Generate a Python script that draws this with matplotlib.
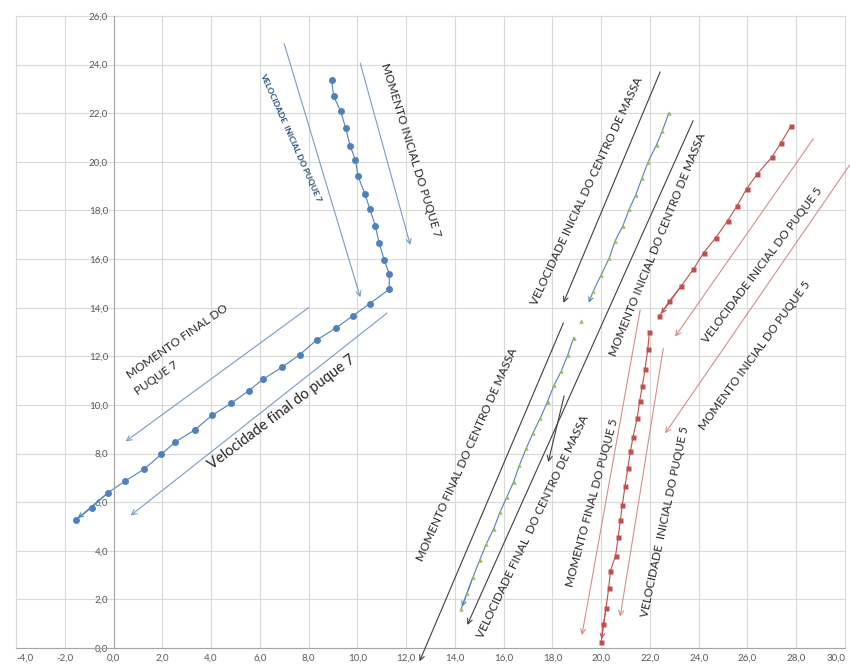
import matplotlib.pyplot as plt
import numpy as np

plt.rcParams['font.family'] = ['Lato', 'DejaVu Sans']

# Puque 7 (blue) - initial part then final part
p7_x = [8.94, 9.03, 9.31, 9.52, 9.70, 9.92, 10.03, 10.31, 10.51, 10.73, 10.89, 11.10, 11.31, 11.31,
        10.50, 9.81, 9.13, 8.33, 7.63, 6.92, 6.15, 5.55, 4.83, 4.05, 3.33, 2.54, 1.96, 1.27, 0.48, -0.24, -0.90, -1.55]
p7_y = [23.37, 22.69, 22.10, 21.39, 20.67, 20.08, 19.40, 18.68, 18.07, 17.38, 16.68, 15.97, 15.38, 14.76,
        14.16, 13.66, 13.17, 12.67, 12.06, 11.56, 11.07, 10.59, 10.07, 9.58, 8.97, 8.48, 7.97, 7.37, 6.87, 6.38, 5.77, 5.27]

# Centro de massa (green)
cm_x_ini = [22.77, 22.51, 22.27, 21.93, 21.68, 21.42, 21.15, 20.89, 20.57, 20.33, 20.00, 19.68]
cm_y_ini = [22.00, 21.28, 20.70, 20.01, 19.35, 18.64, 18.05, 17.37, 16.75, 16.04, 15.35, 14.69]
cm_x_fin = [19.17, 18.87, 18.63, 18.36, 18.07, 17.80, 17.50, 17.20, 16.93, 16.65, 16.41, 16.14, 15.86,
            15.59, 15.29, 15.02, 14.74, 14.50, 14.25]
cm_y_fin = [13.46, 12.76, 12.06, 11.38, 10.82, 10.14, 9.45, 8.84, 8.22, 7.53, 6.84, 6.23, 5.61,
            4.90, 4.28, 3.62, 2.91, 2.25, 1.59]

# Puque 5 (red)
p5_x_ini = [27.79, 27.38, 27.00, 26.41, 25.97, 25.57, 25.19, 24.70, 24.21, 23.78, 23.29, 22.80, 22.39]
p5_y_ini = [21.49, 20.79, 20.19, 19.51, 18.90, 18.19, 17.58, 16.88, 16.27, 15.58, 14.90, 14.28, 13.66]
p5_x_fin = [21.98, 21.91, 21.80, 21.69, 21.58, 21.48, 21.31, 21.20, 21.09, 20.98, 20.87, 20.79, 20.70,
            20.59, 20.38, 20.31, 20.20, 20.09, 20.00]
p5_y_fin = [13.02, 12.29, 11.48, 10.79, 10.18, 9.48, 8.70, 8.09, 7.39, 6.68, 5.90, 5.28, 4.58,
            3.79, 3.18, 2.47, 1.66, 0.97, 0.25]

# annotation arrows: (start, end, colour)
blue_a = '#7A9CC8'
dark_a = '#404040'
red_a = '#D58F8C'
arrows = [
    ((7.0, 24.86), (10.12, 14.43), blue_a),
    ((10.12, 24.06), (12.17, 16.58), blue_a),
    ((8.00, 14.00), (0.50, 8.50), blue_a),
    ((11.22, 13.78), (0.70, 5.45), blue_a),
    ((22.42, 23.70), (18.45, 14.20), dark_a),
    ((23.77, 21.69), (14.51, 0.95), dark_a),
    ((18.45, 13.37), (12.55, -0.55), dark_a),
    ((18.48, 10.37), (17.83, 7.65), dark_a),
    ((28.70, 20.95), (23.03, 12.81), red_a),
    ((30.20, 19.88), (22.62, 8.83), red_a),
    ((21.60, 13.91), (19.21, 0.53), red_a),
    ((22.55, 12.33), (20.78, 1.29), red_a),
]

# annotation texts: (text, center, angle, size, colour, weight)
labels = [
    ('VELOCIDADE  INICIAL DO PUQUE 7', (7.25, 21.0), -66, 6.0, '#1F497D', 'bold'),
    ('MOMENTO INICIAL DO PUQUE 7', (12.2, 20.5), -73, 8.5, '#262626', 'normal'),
    ('MOMENTO FINAL DO', (2.6, 12.6), 35, 8.5, '#262626', 'normal'),
    ('PUQUE 7', (1.75, 11.1), 35, 8.5, '#262626', 'normal'),
    ('Velocidade final do puque 7', (6.9, 9.7), 37, 10.5, '#262626', 'normal'),
    ('VELOCIDADE INICIAL DO CENTRO DE MASSA', (19.4, 18.8), 65, 8.5, '#262626', 'normal'),
    ('MOMENTO INICIAL DO CENTRO DE MASSA', (22.3, 16.6), 68, 8.5, '#262626', 'normal'),
    ('MOMENTO FINAL DO CENTRO DE MASSA', (14.5, 7.95), 66, 8.5, '#262626', 'normal'),
    ('VELOCIDADE FINAL  DO CENTRO DE MASSA', (17.2, 4.98), 64.5, 8.5, '#262626', 'normal'),
    ('VELOCIDADE INICIAL DO PUQUE 5', (26.6, 15.75), 53, 8.5, '#262626', 'normal'),
    ('MOMENTO INICIAL DO PUQUE 5', (26.3, 12.05), 54, 8.5, '#262626', 'normal'),
    ('MOMENTO FINAL DO PUQUE 5', (19.65, 5.96), 75, 8.5, '#262626', 'normal'),
    ('VELOCIDADE  INICIAL DO PUQUE 5', (22.6, 5.2), 78, 8.5, '#262626', 'normal'),
]

fig = plt.figure(figsize=(8.5, 6.64), dpi=100)
ax = fig.add_axes([16/850, 16/664, 829/850, 632/664])

ax.set_xlim(-4, 30)
ax.set_ylim(0, 26)
xt = np.arange(-4, 31, 2)
yt = np.arange(0, 27, 2)
ax.set_xticks(xt)
ax.set_yticks(yt)
ax.set_xticklabels([f'{v:.1f}'.replace('.', ',') for v in xt])
ax.set_yticklabels([f'{v:.1f}'.replace('.', ',') for v in yt])
ax.tick_params(length=0, labelsize=7, labelcolor='#595959', pad=4)
ax.get_xticklabels()[-1].set_horizontalalignment('right')
ax.get_xticklabels()[0].set_horizontalalignment('left')
ax.grid(True, color='#D9D9D9', lw=0.8, clip_on=False)
ax.set_axisbelow(True)
for s in ['top', 'right']:
    ax.spines[s].set_visible(False)
ax.spines['left'].set_position(('data', 0))
ax.spines['left'].set_color('#A6A6A6')
ax.spines['bottom'].set_color('#A6A6A6')

# series lines with arrow at the end
blue = '#4F81BD'
green = '#9BBB59'
red = '#C0504D'
ax.plot(p7_x, p7_y, color=blue, lw=0.8, zorder=2)
ax.annotate('', xy=(p7_x[-1], p7_y[-1]), xytext=(p7_x[-3], p7_y[-3]),
            arrowprops=dict(arrowstyle='->', color=blue, lw=0.8, mutation_scale=8))
ax.plot(cm_x_ini, cm_y_ini, color=blue, lw=0.8, zorder=2)
ax.annotate('', xy=(19.45, 14.1), xytext=(cm_x_ini[-1], cm_y_ini[-1]),
            arrowprops=dict(arrowstyle='->', color=blue, lw=0.8, mutation_scale=8))
ax.plot(cm_x_fin[1:], cm_y_fin[1:], color=blue, lw=0.8, zorder=2)
ax.annotate('', xy=(cm_x_fin[-1], cm_y_fin[-1]), xytext=(cm_x_fin[-3], cm_y_fin[-3]),
            arrowprops=dict(arrowstyle='->', color=blue, lw=0.8, mutation_scale=8))
ax.plot(p5_x_ini, p5_y_ini, color=red, lw=0.8, zorder=2)
ax.annotate('', xy=(p5_x_ini[-1], p5_y_ini[-1]), xytext=(p5_x_ini[-3], p5_y_ini[-3]),
            arrowprops=dict(arrowstyle='->', color=red, lw=0.8, mutation_scale=8))
ax.plot(p5_x_fin, p5_y_fin, color=red, lw=0.8, zorder=2)
ax.annotate('', xy=(p5_x_fin[-1], p5_y_fin[-1]), xytext=(p5_x_fin[-3], p5_y_fin[-3]),
            arrowprops=dict(arrowstyle='->', color=red, lw=0.8, mutation_scale=8))

# markers
ax.plot(p7_x, p7_y, 'o', color=blue, ms=5, mec='none', zorder=3)
ax.plot(cm_x_ini + cm_x_fin, cm_y_ini + cm_y_fin, '^', color=green, ms=3.2, mec='none', zorder=3)
ax.plot(p5_x_ini + p5_x_fin, p5_y_ini + p5_y_fin, 's', color=red, ms=3.6, mec='none', zorder=3)

for start, end, c in arrows:
    ax.annotate('', xy=end, xytext=start, annotation_clip=False,
                arrowprops=dict(arrowstyle='->', color=c, lw=0.8, mutation_scale=9,
                                shrinkA=0, shrinkB=0))

for txt, pos, ang, size, c, w in labels:
    ax.text(pos[0], pos[1], txt, rotation=ang, rotation_mode='anchor', ha='center', va='center',
            fontsize=size, color=c, fontweight=w)

fig.savefig('out.png', dpi=100)
